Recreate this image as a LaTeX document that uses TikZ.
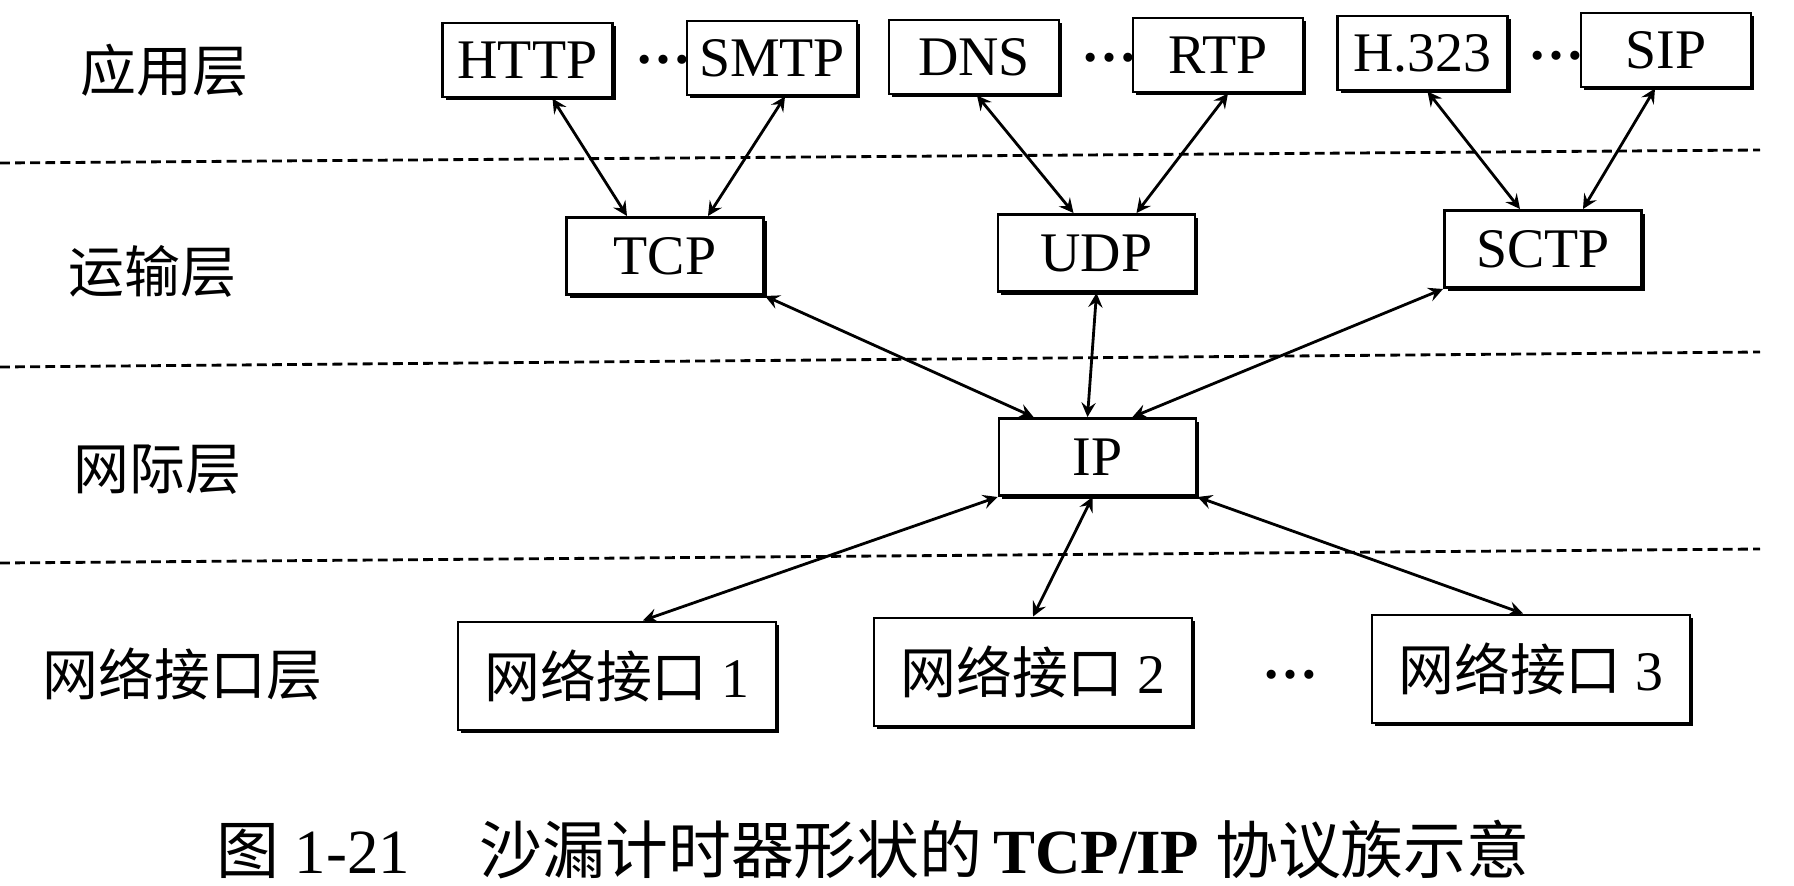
\documentclass[tikz,border=0pt]{standalone}
\usepackage{fontspec}
\setmainfont{Liberation Serif}
\newfontfamily\cjk{Noto Sans CJK SC}
\usetikzlibrary{shadows}
\begin{document}
\begin{tikzpicture}[
        proto/.style={draw, fill=white, line width=0.85pt, minimum width=1.70cm, minimum height=0.74cm, inner sep=0pt,
            font=\fontsize{15.9}{18}\selectfont,
            drop shadow={shadow xshift=0.9pt, shadow yshift=-0.9pt, fill=black, opacity=1}},
        carrier/.style={proto, minimum width=1.97cm, minimum height=0.77cm},
        iface/.style={proto, minimum width=3.18cm, minimum height=1.08cm},
        layer/.style={anchor=west, inner sep=0pt, font=\cjk\fontsize{15.9}{18}\selectfont},
        more/.style={inner sep=0pt, font=\bfseries\fontsize{15.9}{18}\selectfont},
        sep/.style={line width=0.8pt, dash pattern=on 2.8pt off 1.5pt},
        link/.style={black, stealth-stealth, line width=0.8pt}
    ]
        \useasboundingbox (0,0) rectangle (17.94,-8.86);
        % layer borders
        \draw[sep] (0,-1.63) -- (17.6,-1.50);
        \draw[sep] (0,-3.67) -- (17.6,-3.52);
        \draw[sep] (0,-5.63) -- (17.6,-5.49);
        % layer names
        \node[layer] (appl) at (0.80,-0.70) {应用层};
        \node[layer] (trans) at (0.68,-2.71) {运输层};
        \node[layer] (inet) at (0.73,-4.70) {网际层};
        \node[layer] (netif) at (0.42,-6.74) {网络接口层};
        % application layer
        \node[proto] (http) at (5.275,-0.60) {HTTP};
        \node[proto] (smtp) at (7.72,-0.58) {SMTP};
        \node[proto] (dns) at (9.74,-0.57) {DNS};
        \node[proto] (rtp) at (12.18,-0.55) {RTP};
        \node[proto] (h323) at (14.225,-0.53) {H.323};
        \node[proto] (sip) at (16.66,-0.50) {SIP};
        \node[more] (moreA) at (6.63,-0.60) {\dots};
        \node[more] (moreB) at (11.09,-0.58) {\dots};
        \node[more] (moreC) at (15.56,-0.56) {\dots};
        % transport layer
        \node[carrier] (tcp) at (6.65,-2.56) {TCP};
        \node[carrier] (udp) at (10.965,-2.53) {UDP};
        \node[carrier] (sctp) at (15.43,-2.49) {SCTP};
        % internet layer
        \node[carrier] (ip) at (10.975,-4.57) {IP};
        % network interface layer
        \node[iface] (ni1) at (6.17,-6.76) {{\cjk 网络接口} 1};
        \node[iface] (ni2) at (10.33,-6.72) {{\cjk 网络接口} 2};
        \node[iface] (ni3) at (15.31,-6.69) {{\cjk 网络接口} 3};
        \node[more] (moreD) at (12.90,-6.75) {\dots};
        % links
        \draw[link] ([xshift=2.5mm]http.south) -- ([xshift=-3.8mm]tcp.north);
        \draw[link] ([xshift=1.3mm]smtp.south) -- ([xshift=4.3mm]tcp.north);
        \draw[link] ([xshift=0.3mm]dns.south) -- ([xshift=-2.3mm]udp.north);
        \draw[link] ([xshift=1.0mm]rtp.south) -- ([xshift=4.0mm]udp.north);
        \draw[link] ([xshift=0.5mm]h323.south) -- ([xshift=-2.3mm]sctp.north);
        \draw[link] ([xshift=-1.1mm]sip.south) -- ([xshift=4.0mm]sctp.north);
        \draw[link] (tcp.south east) -- ([xshift=-6.4mm]ip.north);
        \draw[link] (udp.south) -- ([xshift=-1.0mm]ip.north);
        \draw[link] (sctp.south west) -- ([xshift=3.5mm]ip.north);
        \draw[link] (ip.south west) -- ([xshift=2.6mm]ni1.north);
        \draw[link] ([xshift=-0.5mm]ip.south) -- (ni2.north);
        \draw[link] (ip.south east) -- ([xshift=-0.8mm]ni3.north);
        % caption
        \node[inner sep=0pt, font=\fontsize{17.9}{20}\selectfont] (caption) at (8.73,-8.50)
            {{\cjk 图} 1-21\hspace{1.1em}{\cjk 沙漏计时器形状的}\,\textbf{TCP/IP} {\cjk 协议族示意}};
    \end{tikzpicture}
\end{document}
